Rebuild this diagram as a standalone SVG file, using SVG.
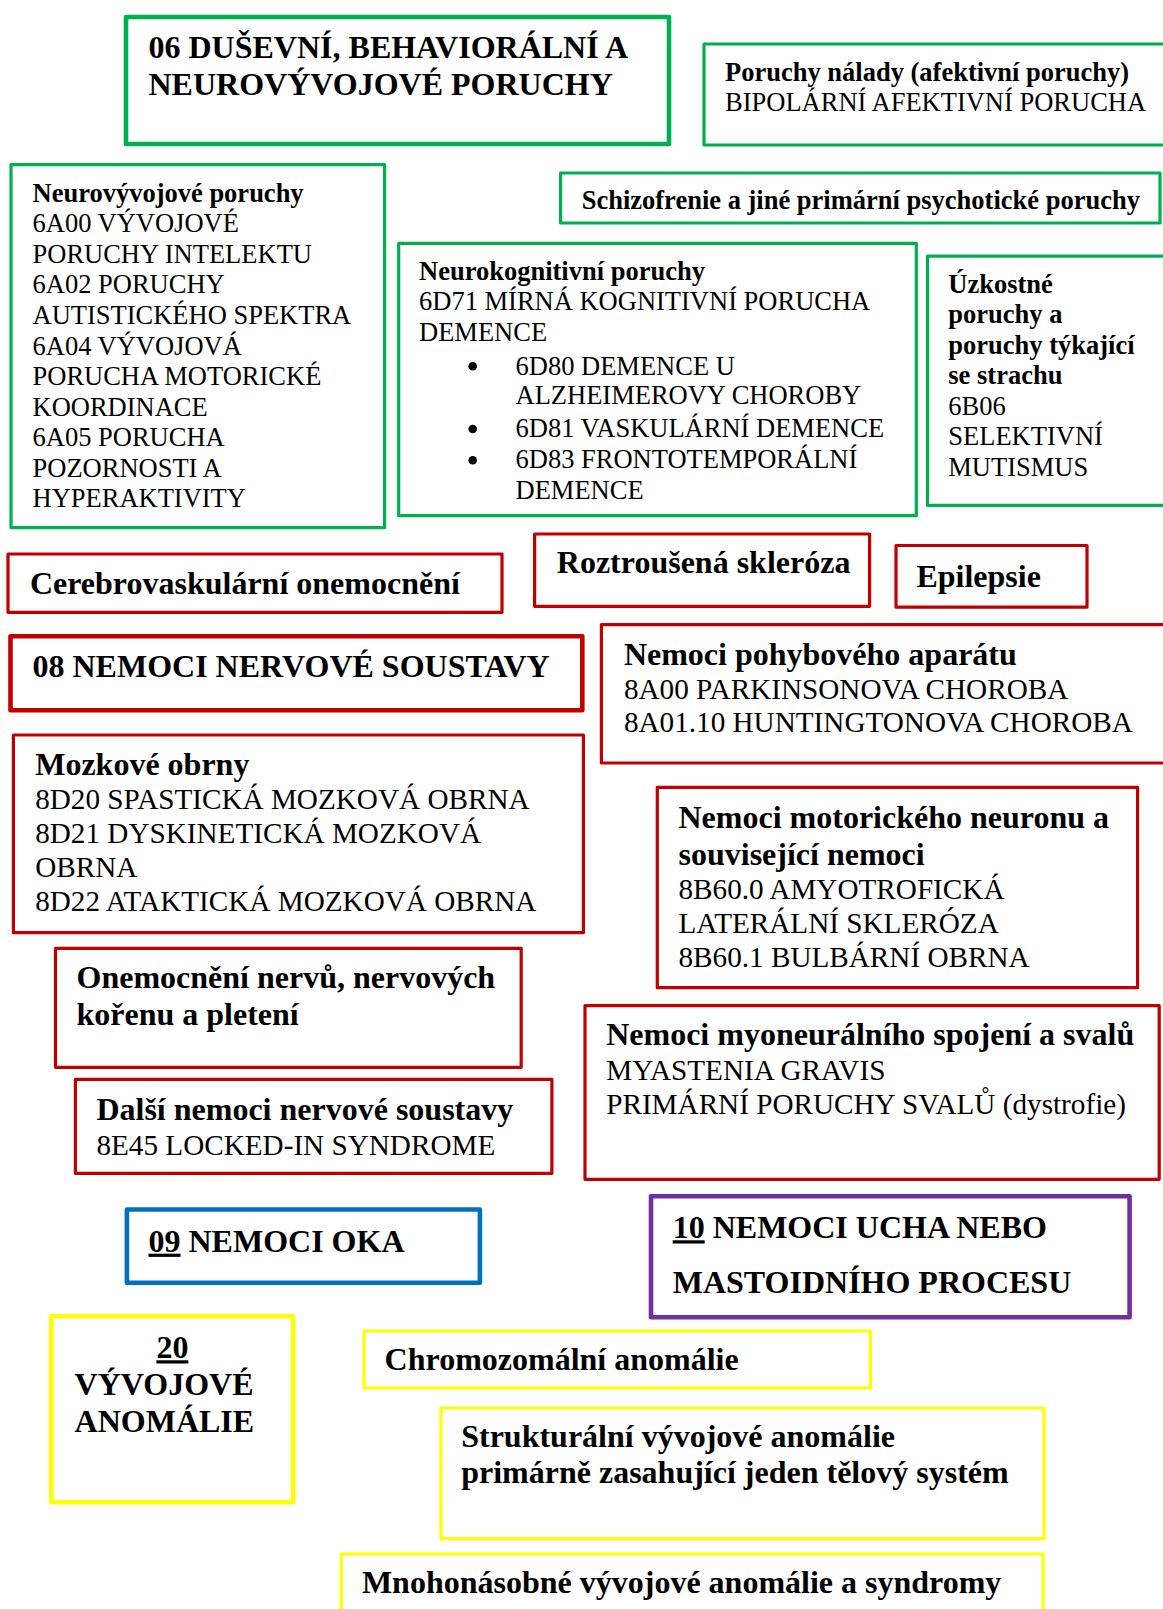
<svg xmlns="http://www.w3.org/2000/svg" width="1163" height="1609" viewBox="0 0 1163 1609">
<style>
rect.box{fill:#fff;stroke-width:3.2;stroke-linejoin:round}
rect.thick{stroke-width:4.6}
.gr{stroke:#00B050}.rd{stroke:#C00000}.bl{stroke:#0070C0}.pu{stroke:#7030A0}.ye{stroke:#FFFF00}
text{font-family:"Liberation Serif","Times New Roman",serif;fill:#000}
.h{font-size:32px;font-weight:bold}
.gb{font-size:26.5px;font-weight:bold}
.gn{font-size:26.5px}
.rn{font-size:29.2px}
.u{text-decoration:underline}
circle.bullet{fill:#000}
</style>
<rect x="0" y="0" width="1163" height="1609" fill="#fff"/>
<g id="connectors"></g>

<g id="n06">
<rect class="box thick gr" x="126" y="17" width="543" height="127"/>
<text class="h"><tspan x="148.5" y="58.3">06 DUŠEVNÍ, BEHAVIORÁLNÍ A</tspan><tspan x="148.5" y="95">NEUROVÝVOJOVÉ PORUCHY</tspan></text>
</g>

<g id="poruchy-nalady">
<rect class="box gr" x="704" y="44" width="480" height="101"/>
<text class="gb" x="725" y="80.7">Poruchy nálady (afektivní poruchy)</text>
<text class="gn" x="725" y="110.7">BIPOLÁRNÍ AFEKTIVNÍ PORUCHA</text>
</g>

<g id="schizofrenie">
<rect class="box gr" x="560.6" y="173" width="599.4" height="50"/>
<text class="gb" x="581.7" y="208.5">Schizofrenie a jiné primární psychotické poruchy</text>
</g>

<g id="neurovyvojove">
<rect class="box gr" x="11" y="164.7" width="373.6" height="363"/>
<text class="gb" x="32.5" y="201.7">Neurovývojové poruchy</text>
<text class="gn"><tspan x="32.5" y="232.3">6A00 VÝVOJOVÉ</tspan><tspan x="32.5" y="262.8">PORUCHY INTELEKTU</tspan><tspan x="32.5" y="293.4">6A02 PORUCHY</tspan><tspan x="32.5" y="323.9">AUTISTICKÉHO SPEKTRA</tspan><tspan x="32.5" y="354.5">6A04 VÝVOJOVÁ</tspan><tspan x="32.5" y="385.1">PORUCHA MOTORICKÉ</tspan><tspan x="32.5" y="415.6">KOORDINACE</tspan><tspan x="32.5" y="446.2">6A05 PORUCHA</tspan><tspan x="32.5" y="476.7">POZORNOSTI A</tspan><tspan x="32.5" y="507.3">HYPERAKTIVITY</tspan></text>
</g>

<g id="neurokognitivni">
<rect class="box gr" x="398.7" y="243.3" width="517.6" height="272.4"/>
<text class="gb" x="419" y="280">Neurokognitivní poruchy</text>
<text class="gn"><tspan x="419" y="310">6D71 MÍRNÁ KOGNITIVNÍ PORUCHA</tspan><tspan x="419" y="340.5">DEMENCE</tspan></text>
<circle class="bullet" cx="472.7" cy="366.3" r="4.3"/>
<circle class="bullet" cx="472.7" cy="429" r="4.3"/>
<circle class="bullet" cx="472.7" cy="460.2" r="4.3"/>
<text class="gn"><tspan x="515.5" y="374.8">6D80 DEMENCE U</tspan><tspan x="515.5" y="404.3">ALZHEIMEROVY CHOROBY</tspan><tspan x="515.5" y="436.8">6D81 VASKULÁRNÍ DEMENCE</tspan><tspan x="515.5" y="468.3">6D83 FRONTOTEMPORÁLNÍ</tspan><tspan x="515.5" y="498.8">DEMENCE</tspan></text>
</g>

<g id="uzkostne">
<rect class="box gr" x="927.5" y="256.2" width="260" height="249.1"/>
<text class="gb"><tspan x="948.3" y="292.7">Úzkostné</tspan><tspan x="948.3" y="323.2">poruchy a</tspan><tspan x="948.3" y="353.7">poruchy týkající</tspan><tspan x="948.3" y="384.2">se strachu</tspan></text>
<text class="gn"><tspan x="948.3" y="414.7">6B06</tspan><tspan x="948.3" y="445.2">SELEKTIVNÍ</tspan><tspan x="948.3" y="475.7">MUTISMUS</tspan></text>
</g>

<g id="cerebrovaskularni">
<rect class="box rd" x="8" y="554" width="494" height="58.3"/>
<text class="h" x="29.9" y="594">Cerebrovaskulární onemocnění</text>
</g>

<g id="roztrousena">
<rect class="box rd" x="534.6" y="534" width="335" height="72.3"/>
<text class="h" x="556.8" y="573.3">Roztroušená skleróza</text>
</g>

<g id="epilepsie">
<rect class="box rd" x="896" y="545.5" width="191" height="61.7"/>
<text class="h" x="916.4" y="586.7">Epilepsie</text>
</g>

<g id="n08">
<rect class="box thick rd" x="10.5" y="636.2" width="571.8" height="74"/>
<text class="h" x="32.5" y="676.7">08 NEMOCI NERVOVÉ SOUSTAVY</text>
</g>

<g id="pohybovy">
<rect class="box rd" x="601.4" y="624.7" width="590" height="138.3"/>
<text class="h" x="623.9" y="665">Nemoci pohybového aparátu</text>
<text class="rn"><tspan x="623.9" y="699">8A00 PARKINSONOVA CHOROBA</tspan><tspan x="623.9" y="732.3">8A01.10 HUNTINGTONOVA CHOROBA</tspan></text>
</g>

<g id="mozkove-obrny">
<rect class="box rd" x="13.4" y="735" width="570" height="197.7"/>
<text class="h" x="35.2" y="775">Mozkové obrny</text>
<text class="rn"><tspan x="35.2" y="809.3">8D20 SPASTICKÁ MOZKOVÁ OBRNA</tspan><tspan x="35.2" y="843.3">8D21 DYSKINETICKÁ MOZKOVÁ</tspan><tspan x="35.2" y="877.3">OBRNA</tspan><tspan x="35.2" y="910.7">8D22 ATAKTICKÁ MOZKOVÁ OBRNA</tspan></text>
</g>

<g id="motoricky-neuron">
<rect class="box rd" x="657.3" y="787.3" width="480.3" height="200.4"/>
<text class="h"><tspan x="678.5" y="828.3">Nemoci motorického neuronu a</tspan><tspan x="678.5" y="865">související nemoci</tspan></text>
<text class="rn"><tspan x="678.5" y="899.3">8B60.0 AMYOTROFICKÁ</tspan><tspan x="678.5" y="932.7">LATERÁLNÍ SKLERÓZA</tspan><tspan x="678.5" y="966.7">8B60.1 BULBÁRNÍ OBRNA</tspan></text>
</g>

<g id="nervy">
<rect class="box rd" x="55.5" y="948.3" width="465.7" height="119"/>
<text class="h"><tspan x="76.5" y="988.3">Onemocnění nervů, nervových</tspan><tspan x="76.5" y="1025">kořenu a pletení</tspan></text>
</g>

<g id="myoneuralni">
<rect class="box rd" x="585" y="1005.7" width="574.2" height="173.6"/>
<text class="h" x="606.2" y="1045">Nemoci myoneurálního spojení a svalů</text>
<text class="rn"><tspan x="606.2" y="1080">MYASTENIA GRAVIS</tspan><tspan x="606.2" y="1114">PRIMÁRNÍ PORUCHY SVALŮ (dystrofie)</tspan></text>
</g>

<g id="dalsi">
<rect class="box rd" x="75.4" y="1079.3" width="476.5" height="94"/>
<text class="h" x="96.4" y="1120">Další nemoci nervové soustavy</text>
<text class="rn" x="96.4" y="1155">8E45 LOCKED-IN SYNDROME</text>
</g>

<g id="n09">
<rect class="box thick bl" x="126.9" y="1209.5" width="353" height="73.3"/>
<text class="h" x="148.5" y="1251.7"><tspan class="u">09</tspan> NEMOCI OKA</text>
</g>

<g id="n10">
<rect class="box thick pu" x="651" y="1196.3" width="478.6" height="120.9"/>
<text class="h"><tspan x="672.7" y="1238.3"><tspan class="u">10</tspan> NEMOCI UCHA NEBO</tspan><tspan x="672.7" y="1293.3">MASTOIDNÍHO PROCESU</tspan></text>
</g>

<g id="n20">
<rect class="box thick ye" x="51.3" y="1316.2" width="241.8" height="186"/>
<text class="h u" x="172.4" y="1358.3" text-anchor="middle">20</text>
<text class="h"><tspan x="74.6" y="1395">VÝVOJOVÉ</tspan><tspan x="74.6" y="1432.3">ANOMÁLIE</tspan></text>
</g>

<g id="chromozomalni">
<rect class="box ye" x="364" y="1331" width="506.4" height="57"/>
<text class="h" x="384.6" y="1370">Chromozomální anomálie</text>
</g>

<g id="strukturalni">
<rect class="box ye" x="441" y="1408" width="603" height="130.7"/>
<text class="h"><tspan x="461.2" y="1446.7">Strukturální vývojové anomálie</tspan><tspan x="461.2" y="1483.3">primárně zasahující jeden tělový systém</tspan></text>
</g>

<g id="mnohonasobne">
<rect class="box ye" x="341.2" y="1554" width="701.8" height="90"/>
<text class="h" x="361.9" y="1593.3">Mnohonásobné vývojové anomálie a syndromy</text>
</g>
</svg>
